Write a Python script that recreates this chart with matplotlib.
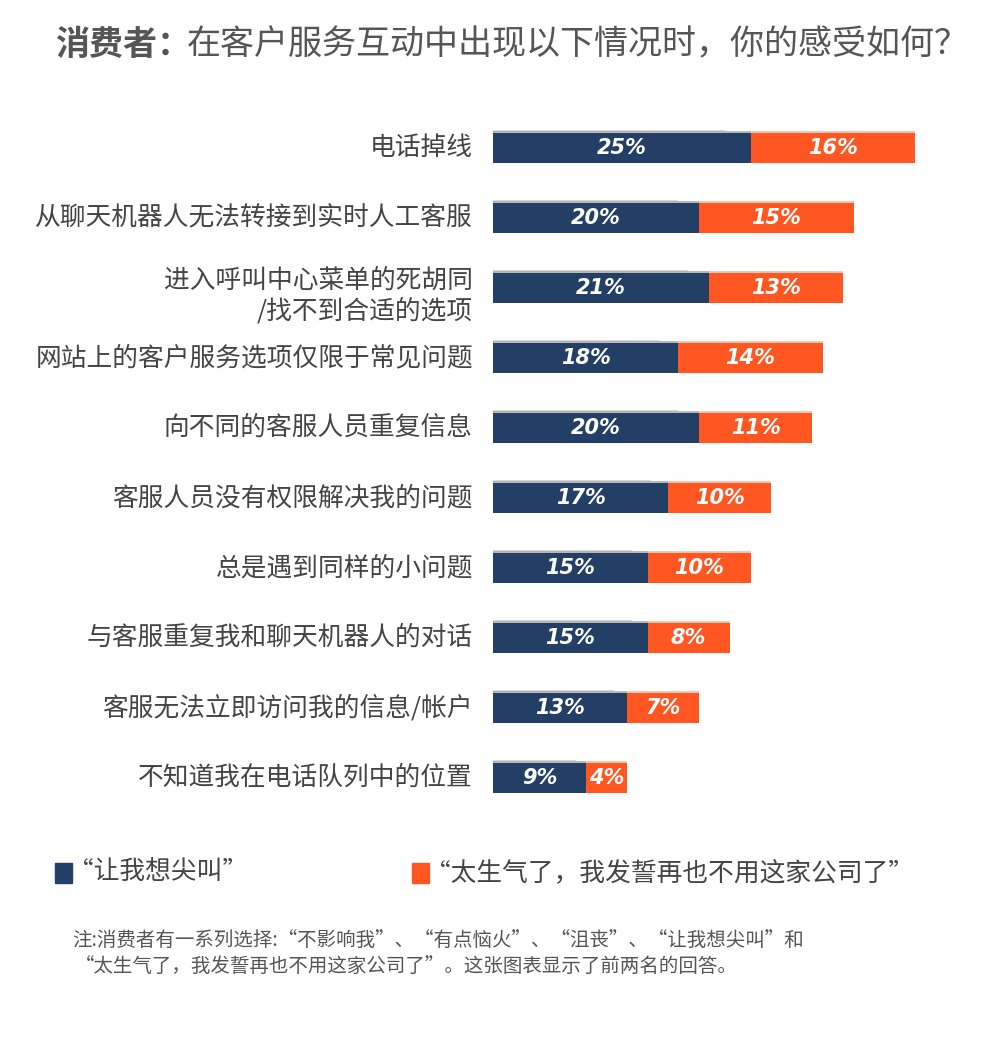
import numpy as np
import matplotlib
matplotlib.use("Agg")
import matplotlib.pyplot as plt

plt.rcParams['font.family'] = ['Noto Sans CJK SC', 'DejaVu Sans']

categories = [
    "电话掉线",
    "从聊天机器人无法转接到实时人工客服",
    "进入呼叫中心菜单的死胡同\n/找不到合适的选项",
    "网站上的客户服务选项仅限于常见问题",
    "向不同的客服人员重复信息",
    "客服人员没有权限解决我的问题",
    "总是遇到同样的小问题",
    "与客服重复我和聊天机器人的对话",
    "客服无法立即访问我的信息/帐户",
    "不知道我在电话队列中的位置",
]
scream = [25, 20, 21, 18, 20, 17, 15, 15, 13, 9]
angry = [16, 15, 13, 14, 11, 10, 10, 8, 7, 4]
legend_labels = ["“让我想尖叫”", "“太生气了，我发誓再也不用这家公司了”"]

navy = "#243F66"
orange = "#FF5622"
text_gray = "#444444"

fig = plt.figure(figsize=(10, 10.6), dpi=100)

# bar area: x from px 493, y rows centred 148..778 px
ax = fig.add_axes([0.493, 1 - 813 / 1060, 0.5, 700 / 1060])
y = np.arange(len(categories))
h = 0.43
ax.barh(y, scream, height=h, color=navy, zorder=2)
ax.barh(y, angry, left=scream, height=h, color=orange, zorder=2)

# brush-stroke look: faint grey streaks along the top edge
ax.barh(y - h / 2 - 0.015, scream, height=0.03, color="#8a8a8a", alpha=0.6, zorder=1)
ax.barh(y - h / 2 - 0.03, np.array(scream) * 0.9, height=0.02, color="#b0b0b0", alpha=0.5, zorder=1)
ax.barh(y - h / 2 - 0.015, angry, left=scream, height=0.03, color="#ff9a7a", alpha=0.6, zorder=1)

ax.set_xlim(0, 500 / 10.3)
ax.set_ylim(len(categories) - 0.5, -0.5)
ax.axis("off")

for i in range(len(categories)):
    ax.text(scream[i] / 2, i, f"{scream[i]}%", color="white", fontsize=15,
            fontweight="bold", fontstyle="italic", ha="center", va="center",
            family="DejaVu Sans")
    ax.text(scream[i] + angry[i] / 2, i, f"{angry[i]}%", color="white", fontsize=15,
            fontweight="bold", fontstyle="italic", ha="center", va="center",
            family="DejaVu Sans")
    off = 0.12 if "\n" in categories[i] else 0
    ax.text(-20 / 10.3, i + off, categories[i], ha="right", va="center",
            fontsize=18.5, color=text_gray, linespacing=1.2)

# title
t1 = fig.text(0.055, 1 - 45 / 1060, "消费者：", fontsize=24.5, fontweight="bold",
              color="#555555", va="center", ha="left")
fig.canvas.draw()
bb = t1.get_window_extent()
fig.text(bb.x1 / 1000 - 0.004, 1 - 45 / 1060, "在客户服务互动中出现以下情况时，你的感受如何？",
         fontsize=24.5, color="#555555", va="center", ha="left")

# legend
leg_y = 1 - 873 / 1060
for x0, col, lab in [(0.055, navy, legend_labels[0]), (0.412, orange, legend_labels[1])]:
    fig.patches.append(plt.Rectangle((x0, leg_y - 0.009), 0.017, 0.018, color=col,
                                     transform=fig.transFigure, figure=fig))
    fig.text(x0 + 0.013, leg_y, lab, fontsize=18.5, color=text_gray, va="center", ha="left")

# footnote
fig.text(0.072, 1 - 940 / 1060,
         "注:消费者有一系列选择:“不影响我”、“有点恼火”、“沮丧”、“让我想尖叫”和",
         fontsize=14, color="#555555", va="center", ha="left", fontstyle="italic")
fig.text(0.075, 1 - 966 / 1060,
         "“太生气了，我发誓再也不用这家公司了”。这张图表显示了前两名的回答。",
         fontsize=14, color="#555555", va="center", ha="left", fontstyle="italic")

fig.savefig("out.png", dpi=100, facecolor="white")
